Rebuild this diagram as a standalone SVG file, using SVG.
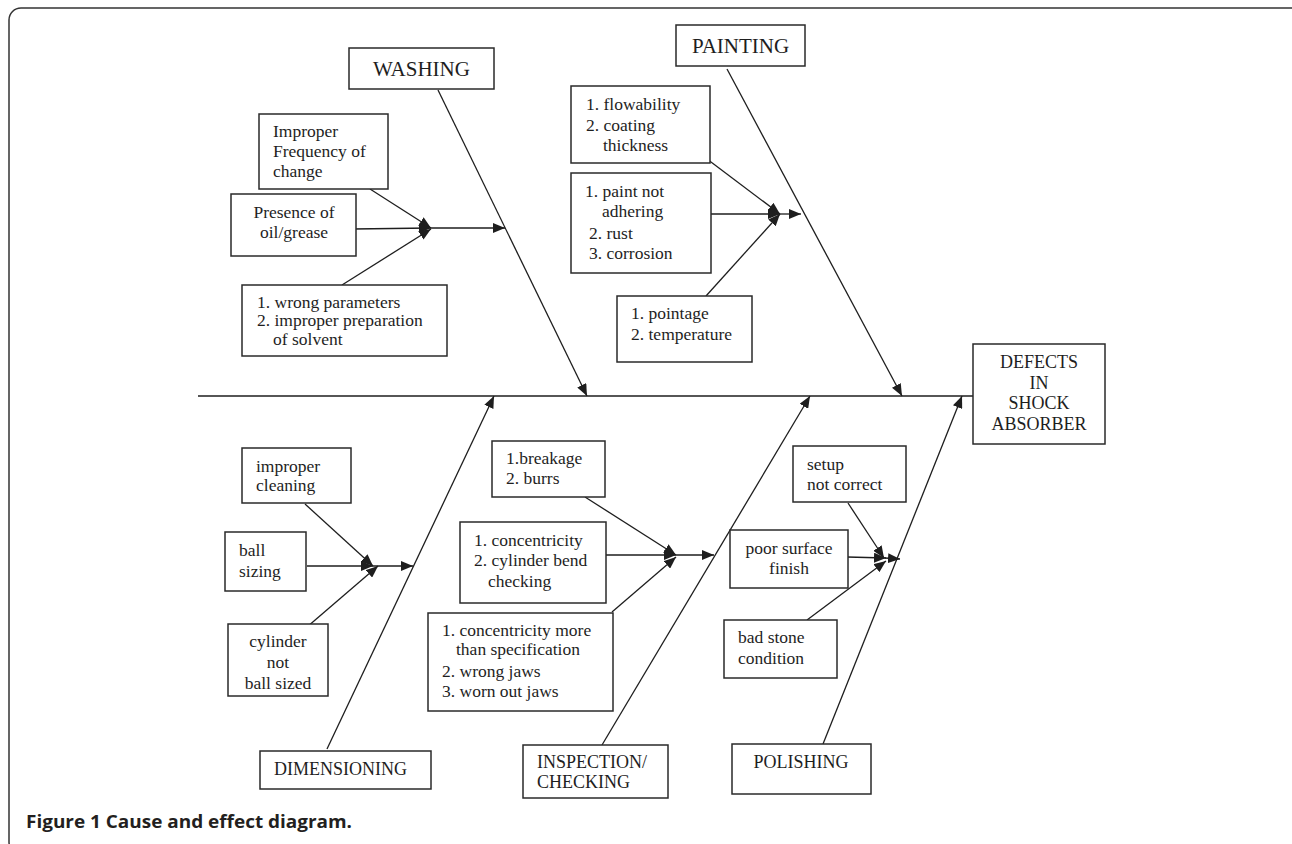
<svg xmlns="http://www.w3.org/2000/svg" width="1292" height="844" viewBox="0 0 1292 844">
<defs>
<style>
.box{fill:#fff;stroke:#2a2a2a;stroke-width:1.5}
.t{font-family:"Liberation Serif","Times New Roman",serif;font-size:17.5px;fill:#1e1e1e}
.h{font-family:"Liberation Serif","Times New Roman",serif;font-size:18px;fill:#1e1e1e}
.hl{font-family:"Liberation Serif","Times New Roman",serif;font-size:21px;fill:#1e1e1e}
.c{text-anchor:middle}
.ln{stroke:#1e1e1e;stroke-width:1.3;fill:none}
.ar{marker-end:url(#arr)}
.cap{font-family:"Open Sans","Liberation Sans",Arial,sans-serif;font-size:17.5px;font-weight:bold;fill:#231f20}
</style>
<marker id="arr" markerUnits="userSpaceOnUse" markerWidth="14" markerHeight="10" refX="12" refY="5" orient="auto">
<path d="M0,0 L12,5 L0,10 z" fill="#1e1e1e"/>
</marker>
</defs>
<rect x="0" y="0" width="1292" height="844" fill="#fff"/>
<rect x="9" y="8" width="1300" height="846" rx="12" fill="none" stroke="#333" stroke-width="1.5"/>

<g id="connectors">
<line class="ln" x1="198" y1="396" x2="973" y2="396"/>
<line class="ln ar" x1="438" y1="90" x2="587" y2="396"/>
<line class="ln ar" x1="727" y1="69" x2="902" y2="396"/>
<line class="ln ar" x1="327" y1="749" x2="494" y2="396"/>
<line class="ln ar" x1="602" y1="745" x2="810" y2="396"/>
<line class="ln ar" x1="823" y1="744" x2="962" y2="396"/>
<line class="ln ar" x1="370" y1="189" x2="431" y2="228"/>
<line class="ln ar" x1="353" y1="229" x2="431" y2="228"/>
<line class="ln ar" x1="342" y1="285" x2="431" y2="229"/>
<line class="ln ar" x1="431" y1="228" x2="505" y2="228"/>
<line class="ln ar" x1="707" y1="159" x2="780" y2="214"/>
<line class="ln ar" x1="710" y1="214" x2="780" y2="214"/>
<line class="ln ar" x1="706" y1="296" x2="780" y2="214"/>
<line class="ln ar" x1="780" y1="214" x2="801" y2="214"/>
<line class="ln ar" x1="305" y1="504" x2="373" y2="566"/>
<line class="ln ar" x1="307" y1="566" x2="373" y2="566"/>
<line class="ln ar" x1="307" y1="627" x2="378" y2="566"/>
<line class="ln ar" x1="373" y1="566" x2="413" y2="566"/>
<line class="ln ar" x1="585" y1="497" x2="676" y2="555"/>
<line class="ln ar" x1="606" y1="555" x2="676" y2="555"/>
<line class="ln ar" x1="612" y1="612" x2="676" y2="557"/>
<line class="ln ar" x1="676" y1="555" x2="714" y2="555"/>
<line class="ln ar" x1="848" y1="503" x2="884" y2="558"/>
<line class="ln ar" x1="847" y1="557" x2="886" y2="558"/>
<line class="ln ar" x1="807" y1="620" x2="886" y2="561"/>
<line class="ln ar" x1="885" y1="558" x2="900" y2="559"/>
</g>

<g id="n-washing">
<rect class="box" x="349" y="48" width="145" height="41"/>
<text class="hl c" x="421.5" y="76">WASHING</text>
</g>
<g id="n-painting">
<rect class="box" x="676" y="25" width="129" height="41"/>
<text class="hl c" x="740.5" y="53">PAINTING</text>
</g>
<g id="n-effect">
<rect class="box" x="973" y="344" width="132" height="100"/>
<text class="h c" x="1039" y="368">DEFECTS</text>
<text class="h c" x="1039" y="388.5">IN</text>
<text class="h c" x="1039" y="409">SHOCK</text>
<text class="h c" x="1039" y="429.5">ABSORBER</text>
</g>
<g id="n-dimensioning">
<rect class="box" x="260" y="751" width="171" height="38"/>
<text class="h" x="274" y="775">DIMENSIONING</text>
</g>
<g id="n-inspection">
<rect class="box" x="523" y="745" width="145" height="53"/>
<text class="h" x="537" y="768">INSPECTION/</text>
<text class="h" x="537" y="788">CHECKING</text>
</g>
<g id="n-polishing">
<rect class="box" x="732" y="744" width="139" height="50"/>
<text class="h c" x="801" y="768">POLISHING</text>
</g>

<g id="c-improper-frequency">
<rect class="box" x="259" y="114" width="129" height="75"/>
<text class="t" x="273" y="137">Improper</text>
<text class="t" x="273" y="157">Frequency of</text>
<text class="t" x="273" y="177">change</text>
</g>
<g id="c-presence-oil">
<rect class="box" x="231" y="194" width="125" height="62"/>
<text class="t c" x="294" y="218">Presence of</text>
<text class="t c" x="294" y="238">oil/grease</text>
</g>
<g id="c-wrong-parameters">
<rect class="box" x="242" y="285" width="205" height="71"/>
<text class="t" x="257" y="308">1. wrong parameters</text>
<text class="t" x="257" y="326">2. improper preparation</text>
<text class="t" x="273" y="345">of solvent</text>
</g>

<g id="c-flowability">
<rect class="box" x="571" y="86" width="139" height="77"/>
<text class="t" x="586" y="110">1. flowability</text>
<text class="t" x="586" y="130.5">2. coating</text>
<text class="t" x="603" y="150.5">thickness</text>
</g>
<g id="c-paint-adhering">
<rect class="box" x="571" y="173" width="140" height="100"/>
<text class="t" x="585" y="197">1. paint not</text>
<text class="t" x="602" y="217">adhering</text>
<text class="t" x="589" y="238.5">2. rust</text>
<text class="t" x="589" y="258.5">3. corrosion</text>
</g>
<g id="c-pointage">
<rect class="box" x="617" y="296" width="135" height="66"/>
<text class="t" x="631" y="319">1. pointage</text>
<text class="t" x="631" y="340">2. temperature</text>
</g>

<g id="c-improper-cleaning">
<rect class="box" x="242" y="448" width="109" height="55"/>
<text class="t" x="256" y="472">improper</text>
<text class="t" x="256" y="491">cleaning</text>
</g>
<g id="c-ball-sizing">
<rect class="box" x="225" y="532" width="81" height="59"/>
<text class="t" x="239" y="556">ball</text>
<text class="t" x="239" y="577">sizing</text>
</g>
<g id="c-cylinder">
<rect class="box" x="228" y="624" width="100" height="72"/>
<text class="t c" x="278" y="647">cylinder</text>
<text class="t c" x="278" y="667.5">not</text>
<text class="t c" x="278" y="688.5">ball sized</text>
</g>

<g id="c-breakage">
<rect class="box" x="492" y="441" width="113" height="56"/>
<text class="t" x="506" y="464">1.breakage</text>
<text class="t" x="506" y="484">2. burrs</text>
</g>
<g id="c-concentricity">
<rect class="box" x="460" y="522" width="146" height="81"/>
<text class="t" x="474" y="546">1. concentricity</text>
<text class="t" x="474" y="566">2. cylinder bend</text>
<text class="t" x="488" y="587">checking</text>
</g>
<g id="c-concentricity-more">
<rect class="box" x="428" y="613" width="185" height="98"/>
<text class="t" x="442" y="636">1. concentricity more</text>
<text class="t" x="456" y="655">than specification</text>
<text class="t" x="442" y="677">2. wrong jaws</text>
<text class="t" x="442" y="697">3. worn out jaws</text>
</g>

<g id="c-setup">
<rect class="box" x="793" y="446" width="113" height="56"/>
<text class="t" x="807" y="470">setup</text>
<text class="t" x="807" y="490">not correct</text>
</g>
<g id="c-poor-surface">
<rect class="box" x="730" y="530" width="118" height="58"/>
<text class="t c" x="789" y="554">poor surface</text>
<text class="t c" x="789" y="574">finish</text>
</g>
<g id="c-bad-stone">
<rect class="box" x="724" y="620" width="113" height="58"/>
<text class="t" x="738" y="643">bad stone</text>
<text class="t" x="738" y="663.5">condition</text>
</g>

<text class="cap" x="26" y="828" textLength="326" lengthAdjust="spacingAndGlyphs">Figure 1 Cause and effect diagram.</text>
</svg>
